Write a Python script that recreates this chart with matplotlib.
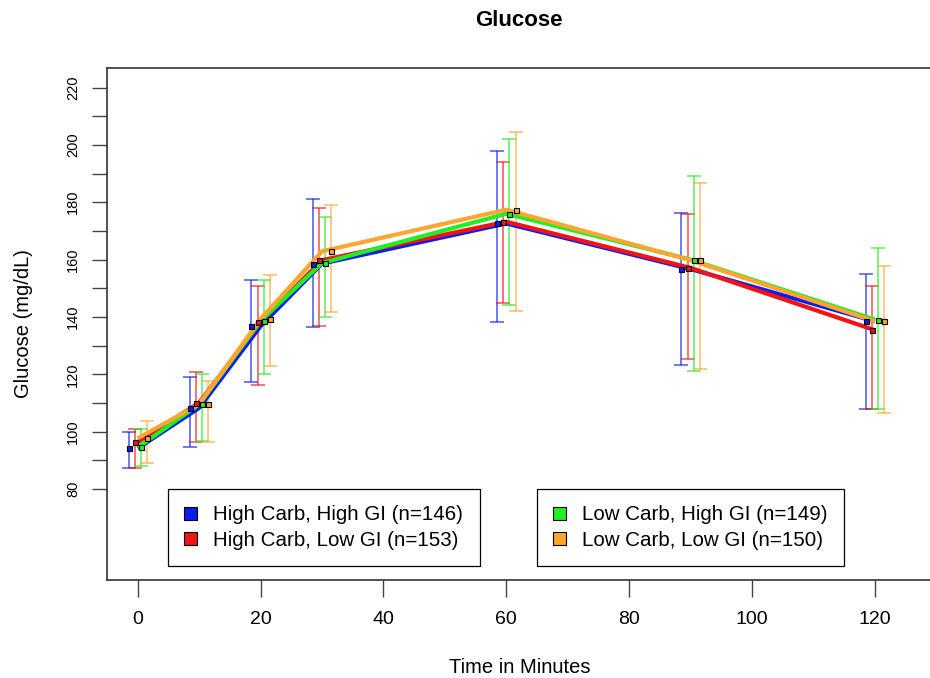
import matplotlib.pyplot as plt
from matplotlib.patches import Patch

plt.rcParams['font.family'] = ['Liberation Sans', 'DejaVu Sans']

# time points (minutes)
time_points = [0, 10, 20, 30, 60, 90, 120]

group_labels = ['High Carb, High GI (n=146)', 'High Carb, Low GI (n=153)',
                'Low Carb, High GI (n=149)', 'Low Carb, Low GI (n=150)']
group_colors = ['#0a1cf0', '#f01414', '#22ee22', '#ffa530']

# group means
mean_hchg = [94.2, 108.3, 136.8, 158.6, 172.6, 156.7, 138.5]
mean_hclg = [96.4, 110.1, 138.3, 159.8, 173.2, 157.1, 135.4]
mean_lchg = [94.5, 109.5, 138.6, 158.8, 176.0, 160.0, 139.1]
mean_lclg = [97.7, 109.6, 139.3, 162.9, 177.4, 159.8, 138.5]

# error bar limits
low_hchg = [87.2, 94.5, 117.3, 136.4, 138.1, 123.1, 108.0]
high_hchg = [100.0, 118.9, 152.8, 181.0, 197.8, 176.4, 154.9]
low_hclg = [87.2, 96.5, 116.2, 137.0, 145.0, 125.2, 108.0]
high_hclg = [101.1, 120.9, 150.9, 177.9, 193.9, 175.9, 150.9]
low_lchg = [88.0, 96.8, 120.1, 139.9, 144.1, 121.1, 108.0]
high_lchg = [101.0, 120.0, 153.0, 174.9, 202.0, 189.1, 163.9]
low_lclg = [89.2, 96.4, 122.8, 141.9, 142.2, 122.0, 106.4]
high_lclg = [103.8, 117.7, 154.8, 179.0, 204.5, 186.6, 157.7]

means = [mean_hchg, mean_hclg, mean_lchg, mean_lclg]
lows = [low_hchg, low_hclg, low_lchg, low_lclg]
highs = [high_hchg, high_hclg, high_lchg, high_lclg]
x_shift = [-1.5, -0.5, 0.5, 1.5]

fig = plt.figure(figsize=(9.3, 6.78), dpi=100)
ax = fig.add_axes([106.7 / 930, 98 / 678, 825.3 / 930, 512 / 678])

# error bars (slightly offset so they don't overlap)
for m, lo, hi, dx, col in zip(means, lows, highs, x_shift, group_colors):
    xs = [t + dx for t in time_points]
    yerr = [[mi - l for mi, l in zip(m, lo)], [h - mi for mi, h in zip(m, hi)]]
    ax.errorbar(xs, m, yerr=yerr, fmt='none', ecolor=col, elinewidth=1.1,
                capsize=4.8, capthick=1.1, alpha=0.75, zorder=2)

# mean lines
for m, col in zip(means, group_colors):
    ax.plot(time_points, m, color=col, lw=3, solid_capstyle='butt', zorder=3)

# mean points
for m, dx, col in zip(means, x_shift, group_colors):
    xs = [t + dx for t in time_points]
    ax.plot(xs, m, ls='none', marker='s', ms=3.6, mfc=col, mec='black',
            mew=0.8, zorder=4)

ax.set_xlim(-5.05, 129.3)
ax.set_ylim(48.3, 226.8)

ax.set_xticks(range(0, 121, 20))
ax.set_yticks(range(80, 221, 10))
ax.set_yticklabels([str(v) if v % 20 == 0 else '' for v in range(80, 221, 10)],
                   rotation=90, va='center')
ax.tick_params(axis='x', length=12, width=1, color='#444444', labelsize=14, pad=10)
ax.tick_params(axis='y', length=11, width=1, color='#444444', labelsize=10.5, pad=8)
for sp in ax.spines.values():
    sp.set_color('#333333')
    sp.set_linewidth(1.2)

ax.set_xlabel('Time in Minutes', fontsize=14.5, labelpad=22)
ax.set_ylabel('Glucose (mg/dL)', fontsize=14.5, labelpad=24)
ax.set_title('Glucose', fontsize=16, fontweight='bold', pad=30)

# two legend boxes
handles = [Patch(facecolor=c, edgecolor='black', linewidth=0.8) for c in group_colors]
leg_kw = dict(fontsize=14.8, handlelength=0.6, handleheight=0.6, handletextpad=0.8,
              borderpad=0.8, labelspacing=0.32, fancybox=False, framealpha=1,
              edgecolor='black', loc='upper left', borderaxespad=0)
leg1 = ax.legend(handles[:2], group_labels[:2], bbox_to_anchor=(0.0743, 0.1777), **leg_kw)
leg1.get_frame().set_linewidth(0.9)
ax.add_artist(leg1)
leg2 = ax.legend(handles[2:], group_labels[2:], bbox_to_anchor=(0.5214, 0.1777), **leg_kw)
leg2.get_frame().set_linewidth(0.9)

fig.savefig('out.png', dpi=100)
